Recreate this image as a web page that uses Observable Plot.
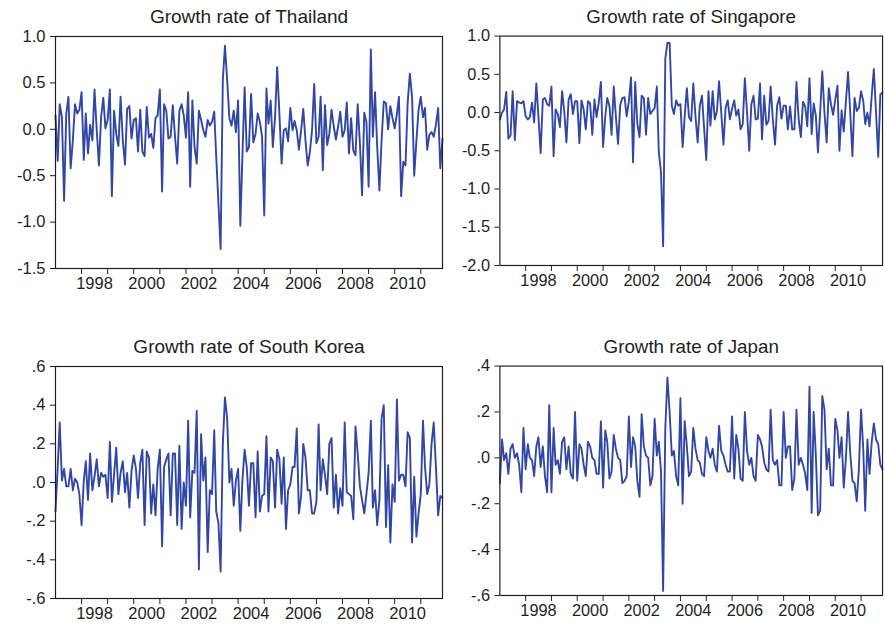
<!DOCTYPE html>
<html>
<head>
<meta charset="utf-8">
<script src="https://cdn.jsdelivr.net/npm/d3@7"></script>
<script src="https://cdn.jsdelivr.net/npm/@observablehq/plot@0.6"></script>
<style>
  html, body { margin: 0; padding: 0; background: #fff; }
  #fig { position: relative; width: 885px; height: 631px; overflow: hidden; background: #fff; }
  #fig > div { position: absolute; }
</style>
</head>
<body>
<div id="fig"></div>
<script>
// Monthly growth rates, January 1997 – November 2011
const startYear = 1997;

const thailand = [
  0.15, -0.34, 0.27, 0.13, -0.77, 0.17, 0.35, -0.42, -0.12, 0.27,
  0.17, 0.21, 0.40, -0.33, 0.17, -0.26, 0.05, -0.12, 0.43, -0.01,
  -0.39, 0.13, 0.34, 0.01, 0.10, 0.43, -0.72, 0.20, -0.05, -0.18,
  0.35, -0.12, -0.38, 0.22, 0.25, -0.10, 0.10, 0.12, -0.24, 0.21,
  -0.24, -0.29, 0.24, -0.09, -0.05, -0.20, 0.12, 0.15, 0.43, -0.67,
  0.27, 0.20, -0.10, -0.08, 0.26, -0.08, -0.37, 0.20, 0.27, 0.15,
  -0.09, 0.40, -0.62, 0.31, -0.19, -0.37, 0.20, 0.10, -0.01, -0.08,
  0.10, 0.04, 0.08, 0.19, -0.30, -0.80, -1.29, 0.53, 0.90, 0.53,
  0.12, 0.04, 0.20, -0.03, 0.31, -1.04, -0.30, 0.45, -0.24, -0.19,
  0.38, -0.14, -0.05, 0.17, 0.08, -0.08, -0.93, 0.44, 0.06, 0.31,
  -0.19, 0.13, 0.67, 0.17, -0.37, -0.01, 0.01, -0.13, 0.23, -0.01,
  0.09, -0.01, -0.22, -0.01, 0.22, -0.12, -0.39, -0.25, -0.01, 0.49,
  -0.15, -0.08, 0.35, -0.44, 0.26, -0.17, -0.05, 0.21, 0.03, -0.11,
  0.03, 0.19, -0.08, -0.01, 0.29, -0.26, 0.12, -0.23, -0.28, 0.27,
  -0.15, -0.71, 0.18, 0.08, -0.62, 0.86, -0.08, 0.40, -0.19, -0.66,
  -0.12, 0.30, 0.28, 0.00, 0.25, 0.12, 0.01, 0.17, 0.35, -0.72,
  -0.35, -0.39, 0.28, 0.60, 0.35, -0.50, -0.12, 0.21, 0.35, 0.13,
  0.23, -0.22, -0.06, -0.03, -0.08, 0.05, 0.23, -0.42, -0.10
];

const singapore = [
  -0.09, 0.00, 0.04, 0.27, -0.34, -0.30, 0.28, -0.36, 0.15, 0.13,
  0.12, 0.15, -0.05, -0.09, -0.06, 0.13, -0.13, 0.38, -0.05, -0.53,
  0.17, 0.19, 0.11, 0.09, 0.34, -0.57, 0.04, -0.02, -0.19, 0.28,
  0.02, -0.39, 0.17, 0.24, -0.02, 0.15, 0.15, -0.40, 0.16, 0.04,
  -0.22, 0.15, 0.12, -0.29, 0.17, -0.06, 0.13, 0.40, -0.45, -0.05,
  0.19, 0.09, -0.29, 0.34, -0.05, -0.41, 0.10, 0.19, 0.20, -0.05,
  0.15, 0.46, -0.65, 0.40, -0.15, -0.32, 0.22, 0.19, -0.29, 0.19,
  -0.02, 0.02, 0.06, 0.34, -0.52, -0.78, -1.75, 0.71, 0.91, 0.91,
  0.09, -0.02, 0.16, 0.09, 0.11, -0.45, -0.05, 0.32, -0.06, -0.11,
  0.38, -0.05, -0.39, 0.09, 0.22, -0.20, -0.62, 0.28, -0.17, 0.28,
  -0.09, 0.02, 0.41, 0.00, -0.42, 0.06, 0.16, -0.09, 0.05, 0.16,
  -0.04, 0.04, -0.22, -0.15, 0.45, 0.00, -0.50, 0.11, 0.22, -0.09,
  -0.08, 0.38, -0.35, 0.22, -0.16, -0.11, 0.34, -0.09, -0.42, 0.09,
  0.20, -0.08, 0.09, 0.09, -0.22, 0.08, -0.22, -0.22, 0.40, -0.09,
  -0.32, 0.14, 0.08, -0.18, 0.45, -0.28, 0.12, -0.04, -0.52, 0.00,
  0.54, 0.00, -0.39, 0.32, 0.11, -0.03, 0.17, 0.35, -0.50, 0.03,
  -0.25, 0.15, 0.53, 0.00, -0.57, 0.19, 0.02, 0.06, 0.28, 0.15,
  -0.15, 0.00, -0.18, 0.22, 0.57, 0.00, -0.58, 0.24, 0.26
];

const southKorea = [
  -0.15, 0.08, 0.31, 0.01, 0.07, -0.02, -0.02, 0.07, -0.04, 0.02,
  0.00, -0.06, -0.22, 0.01, 0.11, -0.09, 0.15, -0.04, 0.03, 0.12,
  -0.02, 0.05, 0.03, 0.04, -0.08, 0.21, -0.10, 0.04, 0.18, -0.06,
  0.05, 0.11, -0.05, 0.05, -0.13, 0.06, 0.14, 0.07, -0.08, 0.10,
  0.17, -0.22, 0.16, 0.13, -0.16, -0.01, -0.17, 0.07, 0.17, -0.33,
  0.08, 0.12, 0.15, -0.17, 0.15, 0.15, -0.22, 0.19, -0.24, 0.00,
  -0.12, 0.32, -0.18, 0.06, 0.05, 0.37, -0.45, 0.25, 0.01, 0.13,
  -0.36, -0.04, -0.06, 0.27, -0.15, -0.21, -0.46, 0.20, 0.44, 0.33,
  0.00, 0.07, -0.12, 0.01, 0.07, -0.25, 0.01, 0.17, 0.08, -0.12,
  0.10, 0.10, -0.18, 0.16, -0.15, -0.07, -0.06, 0.24, -0.15, 0.13,
  0.11, -0.13, 0.17, 0.12, -0.11, 0.13, -0.24, -0.04, -0.01, 0.08,
  0.08, 0.28, -0.16, -0.07, 0.20, 0.13, -0.04, -0.04, -0.16, -0.16,
  -0.10, 0.30, -0.04, 0.12, 0.04, -0.06, 0.20, 0.23, -0.13, 0.04,
  -0.16, -0.03, -0.12, 0.31, -0.05, -0.06, -0.07, -0.19, 0.29, 0.15,
  -0.02, -0.09, -0.16, -0.06, 0.05, 0.32, -0.13, -0.04, -0.22, -0.09,
  0.33, 0.40, -0.23, 0.09, -0.31, -0.01, -0.10, 0.43, 0.01, 0.04,
  0.04, -0.02, 0.26, 0.23, -0.31, 0.03, -0.28, -0.16, -0.06, 0.32,
  0.08, -0.06, -0.01, 0.20, 0.31, 0.08, -0.17, -0.07, -0.08
];

const japan = [
  -0.11, 0.08, -0.01, 0.02, -0.07, 0.04, 0.06, 0.00, 0.02, -0.03,
  -0.15, 0.13, -0.05, 0.06, 0.00, -0.01, -0.08, 0.05, 0.09, -0.04,
  0.05, -0.08, -0.15, 0.23, -0.15, 0.13, -0.03, -0.01, -0.07, 0.07,
  0.09, -0.05, 0.05, -0.07, -0.09, 0.20, -0.10, 0.06, 0.04, -0.03,
  -0.08, 0.07, 0.05, 0.00, -0.01, -0.07, -0.07, 0.16, -0.13, 0.12,
  0.07, -0.09, -0.06, 0.10, 0.04, 0.00, -0.01, -0.11, -0.10, -0.08,
  0.18, -0.04, 0.09, 0.05, -0.10, -0.17, 0.19, 0.05, 0.01, 0.00,
  -0.12, -0.08, 0.17, 0.01, 0.07, -0.06, -0.58, 0.13, 0.35, 0.20,
  0.01, 0.03, -0.08, -0.12, 0.26, -0.20, 0.16, 0.05, -0.08, -0.06,
  0.13, 0.04, -0.01, -0.02, -0.07, -0.08, 0.09, 0.03, 0.00, 0.04,
  -0.03, -0.06, 0.14, 0.03, 0.01, -0.03, -0.06, -0.06, 0.18, -0.09,
  0.10, 0.04, -0.09, -0.10, 0.20, 0.03, -0.03, 0.00, -0.08, -0.10,
  0.10, 0.08, 0.05, -0.02, -0.05, -0.06, 0.21, -0.01, -0.03, -0.01,
  -0.12, -0.12, 0.20, 0.00, 0.05, 0.05, -0.14, -0.09, 0.21, -0.03,
  0.00, -0.03, -0.07, -0.14, 0.31, -0.24, 0.20, 0.01, -0.25, -0.23,
  0.27, 0.21, -0.05, 0.04, -0.12, -0.12, 0.17, 0.12, 0.00, 0.09,
  -0.13, 0.00, 0.20, 0.02, -0.10, -0.11, -0.19, -0.05, 0.21, 0.04,
  -0.23, 0.08, -0.07, 0.07, 0.15, 0.08, 0.06, -0.03, -0.05
];

// Axis tick values
const tickYears = d3.range(1998, 2012);            // tick marks at each year start
const labelYears = [1998, 2000, 2002, 2004, 2006, 2008, 2010];
const thailandTicks = [1.0, 0.5, 0.0, -0.5, -1.0, -1.5];
const singaporeTicks = [1.0, 0.5, 0.0, -0.5, -1.0, -1.5, -2.0];
const koreaTicks = [0.6, 0.4, 0.2, 0.0, -0.2, -0.4, -0.6];
const japanTicks = [0.4, 0.2, 0.0, -0.2, -0.4, -0.6];

const titles = ["Growth rate of Thailand", "Growth rate of Singapore",
                "Growth rate of South Korea", "Growth rate of Japan"];

const monthDate = i => new Date(Date.UTC(startYear, i, 1));
const toRows = values => values.map((v, i) => ({date: monthDate(i), value: v}));

// Tick label styles: "0.5" / "-1.0" and ".4" / "-.2"
const fmtFixed = d => d.toFixed(1);
const fmtNoZero = d => (d < 0 ? "-" : "") + Math.abs(d).toFixed(1).replace(/^0/, "");

const lineColor = "#3246a6";
const inkColor = "#1e1e1e";
const fontFamily = "'Liberation Sans', Arial, sans-serif";

function panel({values, title, yDomain, yTicks, yFormat}) {
  const rows = toRows(values);
  return Plot.plot({
    width: 445,
    height: 300,
    marginLeft: 55,
    marginRight: 3,
    marginTop: 36,
    marginBottom: 32,
    style: {fontFamily, fontSize: "16.5px", color: inkColor, background: "transparent"},
    x: {type: "utc", domain: [rows[0].date, rows[rows.length - 1].date]},
    y: {domain: yDomain},
    marks: [
      Plot.line(rows, {x: "date", y: "value", stroke: lineColor, strokeWidth: 1.9, strokeLinejoin: "round"}),
      Plot.frame({stroke: inkColor, strokeWidth: 1.2}),
      Plot.axisY({ticks: yTicks, tickSize: 5, tickPadding: 5, tickFormat: yFormat, label: null,
                  stroke: inkColor, fill: inkColor}),
      Plot.axisX({ticks: tickYears.map(y => new Date(Date.UTC(y, 0, 1))), tickSize: 6,
                  tickFormat: () => "", label: null, stroke: inkColor}),
      Plot.axisX({ticks: labelYears.map(y => new Date(Date.UTC(y, 6, 1))), tickSize: 0, tickPadding: 9,
                  tickFormat: d => String(d.getUTCFullYear()), label: null, fill: inkColor}),
      Plot.text([title], {frameAnchor: "top", dy: -27, fill: inkColor, fontSize: 19})
    ]
  });
}

const specs = [
  {values: thailand, title: titles[0], yDomain: [-1.5, 1.0], yTicks: thailandTicks, yFormat: fmtFixed, left: 0, top: 0},
  {values: singapore, title: titles[1], yDomain: [-2.0, 1.0], yTicks: singaporeTicks, yFormat: fmtFixed, left: 445, top: 0},
  {values: southKorea, title: titles[2], yDomain: [-0.6, 0.6], yTicks: koreaTicks, yFormat: fmtNoZero, left: 0, top: 330},
  {values: japan, title: titles[3], yDomain: [-0.6, 0.4], yTicks: japanTicks, yFormat: fmtNoZero, left: 445, top: 330}
];

const fig = document.getElementById("fig");
for (const s of specs) {
  const holder = document.createElement("div");
  holder.style.left = s.left + "px";
  holder.style.top = s.top + "px";
  holder.appendChild(panel(s));
  fig.appendChild(holder);
}
</script>
</body>
</html>
